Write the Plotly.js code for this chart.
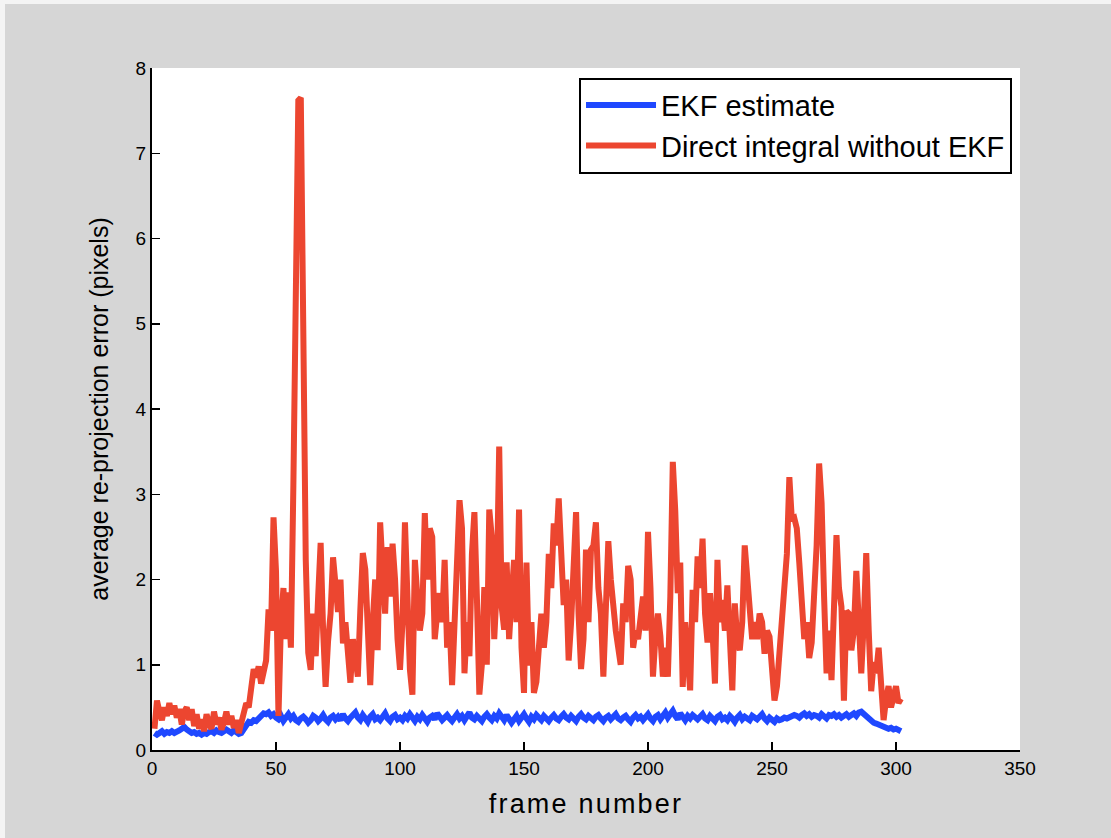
<!DOCTYPE html>
<html>
<head>
<meta charset="utf-8">
<script src="https://cdn.plot.ly/plotly-3.0.1.min.js"></script>
<style>
  html, body { margin: 0; padding: 0; background: #d6d6d6; }
  #wrap { position: relative; width: 1111px; height: 838px; overflow: hidden; }
  #chart { width: 1111px; height: 838px; }
  .edge-top { position: absolute; left: 0; top: 0; width: 1111px; height: 4px; background: #f4f4f4; }
  .edge-left { position: absolute; left: 0; top: 0; width: 5px; height: 838px; background: #f4f4f4; }
  .xtitle { letter-spacing: 2.2px; }
</style>
</head>
<body>
<div id="wrap">
<div id="chart"></div>
<div class="edge-top"></div>
<div class="edge-left"></div>
</div>
<script>
// ---- data ----
const seriesNames = ["EKF estimate", "Direct integral without EKF"];

const ekfError = [
  0.2, 0.18, 0.2, 0.22, 0.19, 0.21, 0.2, 0.22, 0.2, 0.21,
  0.23, 0.25, 0.27, 0.24, 0.22, 0.2, 0.21, 0.19, 0.2, 0.18,
  0.2, 0.19, 0.21, 0.22, 0.2, 0.23, 0.21, 0.2, 0.22, 0.24,
  0.22, 0.2, 0.23, 0.21, 0.19, 0.2, 0.25, 0.3, 0.33, 0.32,
  0.35, 0.34, 0.38, 0.4, 0.43, 0.42, 0.44, 0.4, 0.42, 0.38,
  0.36, 0.4, 0.34, 0.38, 0.42, 0.37, 0.4, 0.35, 0.33, 0.37,
  0.39, 0.36, 0.32, 0.35, 0.4, 0.38, 0.34, 0.37, 0.41, 0.36,
  0.33, 0.38, 0.4, 0.36, 0.39, 0.35, 0.42, 0.37, 0.34, 0.38,
  0.4, 0.44, 0.38, 0.35, 0.41, 0.37, 0.33, 0.39, 0.42, 0.36,
  0.38, 0.35, 0.4, 0.43, 0.37, 0.34, 0.39, 0.41, 0.36, 0.38,
  0.35, 0.4, 0.37, 0.42, 0.38, 0.34, 0.39, 0.36, 0.41, 0.37,
  0.33, 0.38, 0.4, 0.36, 0.43, 0.39, 0.35, 0.38, 0.41, 0.37,
  0.34, 0.38, 0.42, 0.37, 0.4, 0.35, 0.39, 0.44, 0.38, 0.36,
  0.4, 0.37, 0.34, 0.39, 0.42, 0.38, 0.35, 0.4, 0.37, 0.43,
  0.38, 0.35, 0.41, 0.37, 0.32, 0.36, 0.4, 0.34, 0.38, 0.42,
  0.37, 0.33, 0.39, 0.36, 0.41, 0.38, 0.35, 0.4, 0.36, 0.34,
  0.38, 0.41, 0.37, 0.35, 0.39, 0.42, 0.38, 0.36, 0.4, 0.37,
  0.34, 0.39, 0.42, 0.38, 0.36, 0.4, 0.37, 0.35, 0.39, 0.41,
  0.37, 0.34, 0.38, 0.4, 0.36, 0.39, 0.42, 0.37, 0.35, 0.38,
  0.4, 0.36, 0.33, 0.38, 0.41, 0.37, 0.39, 0.35, 0.38, 0.42,
  0.37, 0.34, 0.39, 0.41, 0.36, 0.4, 0.44, 0.38, 0.42, 0.46,
  0.4, 0.36, 0.43, 0.39, 0.35, 0.4, 0.37, 0.41, 0.38, 0.36,
  0.39, 0.42, 0.37, 0.35, 0.4, 0.38, 0.34, 0.39, 0.41, 0.36,
  0.38, 0.35, 0.4, 0.37, 0.33, 0.38, 0.41, 0.36, 0.39, 0.37,
  0.35, 0.4, 0.38, 0.36, 0.39, 0.42, 0.37, 0.34, 0.38, 0.36,
  0.33, 0.37, 0.35, 0.36, 0.38, 0.37, 0.39, 0.4, 0.41, 0.4,
  0.38, 0.41, 0.43, 0.4, 0.42, 0.39, 0.41, 0.4, 0.38, 0.42,
  0.39, 0.37, 0.41, 0.4, 0.42, 0.39, 0.41, 0.38, 0.4, 0.42,
  0.39, 0.41, 0.43, 0.4, 0.44, 0.45, 0.42, 0.4, 0.36, 0.33,
  0.32, 0.31, 0.3, 0.28, 0.27, 0.26, 0.25, 0.26, 0.24, 0.25,
  0.23, 0.22
];

const directError = [
  0.25, 0.58, 0.45, 0.35, 0.5, 0.4, 0.55, 0.42, 0.52, 0.38,
  0.48, 0.3, 0.45, 0.5, 0.35, 0.48, 0.28, 0.42, 0.25, 0.36,
  0.22, 0.42, 0.3, 0.25, 0.45, 0.3, 0.38, 0.24, 0.32, 0.45,
  0.3, 0.4, 0.26, 0.35, 0.2, 0.32, 0.4, 0.55, 0.5, 0.78,
  0.95, 0.85, 0.98, 0.78, 0.9, 1.05, 1.65, 1.4, 2.73, 2.1,
  0.4, 1.5, 1.9, 1.3, 1.85, 1.2, 3.1, 6.1, 7.62, 7.65,
  4.57, 2.23, 1.14, 0.94, 1.6, 1.1, 1.8, 2.43, 1.4, 0.74,
  1.28, 1.6, 2.26, 2.0, 1.62, 2.0, 1.25, 1.5, 1.1, 0.79,
  1.3, 1.0, 0.86, 1.64, 2.31, 2.12, 1.4, 0.76, 1.5, 2.0,
  1.17, 2.67, 2.12, 1.6, 2.38, 1.8, 2.42, 2.0, 1.3, 0.94,
  1.5, 2.67, 1.8, 0.94, 0.65, 2.23, 1.8, 1.4, 1.6, 2.78,
  2.0, 2.6, 2.5, 1.3, 1.6, 1.84, 1.5, 2.23, 1.2, 1.5,
  0.76, 1.6, 2.5, 2.93, 2.6, 0.9, 1.5, 1.1, 2.3, 2.79,
  1.8, 0.65, 1.0, 1.91, 1.0, 2.82, 2.5, 1.3, 1.9, 3.56,
  1.68, 1.41, 2.2, 1.3, 1.8, 2.23, 1.5, 2.82, 1.2, 0.67,
  2.2, 0.99, 1.5, 0.67, 0.8, 1.2, 1.6, 1.2, 1.5, 2.3,
  1.9, 2.66, 2.4, 2.95, 2.4, 1.7, 2.0, 1.05, 1.5, 2.12,
  2.79, 1.6, 0.95, 1.3, 2.35, 1.5, 2.35, 2.4, 2.67, 1.9,
  1.6, 0.86, 1.5, 2.45, 2.0, 1.64, 1.4, 1.2, 1.0, 1.72,
  1.5, 2.16, 2.0, 1.2, 1.4, 1.3, 1.5, 1.8, 1.4, 2.56,
  1.9, 0.86, 1.33, 1.6, 1.33, 0.86, 1.2, 0.86, 1.8, 3.38,
  2.8, 1.84, 2.2, 0.74, 1.5, 1.0, 0.7, 1.88, 1.5, 2.27,
  1.9, 2.48, 1.6, 1.26, 1.84, 1.4, 0.78, 2.23, 1.5, 1.76,
  1.4, 1.93, 1.3, 0.7, 1.72, 1.3, 1.17, 1.5, 2.4, 2.0,
  1.76, 1.3, 1.5, 1.3, 1.6, 1.5, 1.13, 1.4, 1.33, 0.9,
  0.58, 0.75, 1.13, 1.5, 1.8, 2.3, 3.2, 2.7, 2.72, 2.6,
  2.2, 1.8, 1.3, 1.5, 1.08, 1.26, 1.84, 2.4, 3.36, 2.9,
  1.8, 0.9, 1.4, 0.82, 1.68, 2.52, 1.9, 1.68, 0.58, 1.63,
  1.6, 1.17, 1.4, 2.1, 1.5, 0.9, 1.5, 2.31, 1.4, 0.69,
  1.03, 0.9, 1.2, 0.8, 0.35, 0.6, 0.75, 0.5, 0.6, 0.75,
  0.55, 0.6
];

const frames = ekfError.map((_, i) => i + 1);
const frames2 = directError.map((_, i) => i + 1);

const xTickVals = [0, 50, 100, 150, 200, 250, 300, 350];
const yTickVals = [0, 1, 2, 3, 4, 5, 6, 7, 8];
const xTitle = "frame number";
const yTitle = "average re-projection error (pixels)";

// ---- chart ----
const FONT = "Liberation Sans, Arial, Helvetica, sans-serif";

const traces = [
  {
    x: frames, y: ekfError, name: seriesNames[0], type: "scatter", mode: "lines",
    line: { color: "#1f48ff", width: 6 }
  },
  {
    x: frames2, y: directError, name: seriesNames[1], type: "scatter", mode: "lines",
    line: { color: "#ec4630", width: 6 }
  }
];

const layout = {
  width: 1111, height: 838,
  paper_bgcolor: "#d6d6d6",
  plot_bgcolor: "#ffffff",
  margin: { l: 152, r: 91, t: 68, b: 88 },
  font: { family: FONT, color: "#000000", size: 19 },
  showlegend: true,
  legend: {
    x: 0.9908, xanchor: "right", y: 0.986, yanchor: "top",
    bgcolor: "#ffffff", bordercolor: "#000000", borderwidth: 2,
    font: { family: FONT, size: 29, color: "#000000" },
    itemwidth: 70, tracegroupgap: 0
  },
  xaxis: {
    range: [0, 350], tickvals: xTickVals, ticktext: xTickVals.map(String),
    ticks: "inside", ticklen: 8, tickwidth: 1.5, tickcolor: "#000",
    showline: true, linecolor: "#000", linewidth: 2, mirror: false,
    showgrid: false, zeroline: false,
    tickfont: { family: FONT, size: 19 },
    title: { text: xTitle, font: { family: FONT, size: 27 }, standoff: 16 }
  },
  yaxis: {
    range: [0, 8], tickvals: yTickVals, ticktext: yTickVals.map(String),
    ticks: "inside", ticklen: 8, tickwidth: 1.5, tickcolor: "#000",
    showline: true, linecolor: "#000", linewidth: 2, mirror: false,
    showgrid: false, zeroline: false,
    tickfont: { family: FONT, size: 19 },
    title: { text: yTitle, font: { family: FONT, size: 25 }, standoff: 20 }
  }
};

Plotly.newPlot("chart", traces, layout, { displayModeBar: false, staticPlot: true });
</script>
</body>
</html>
